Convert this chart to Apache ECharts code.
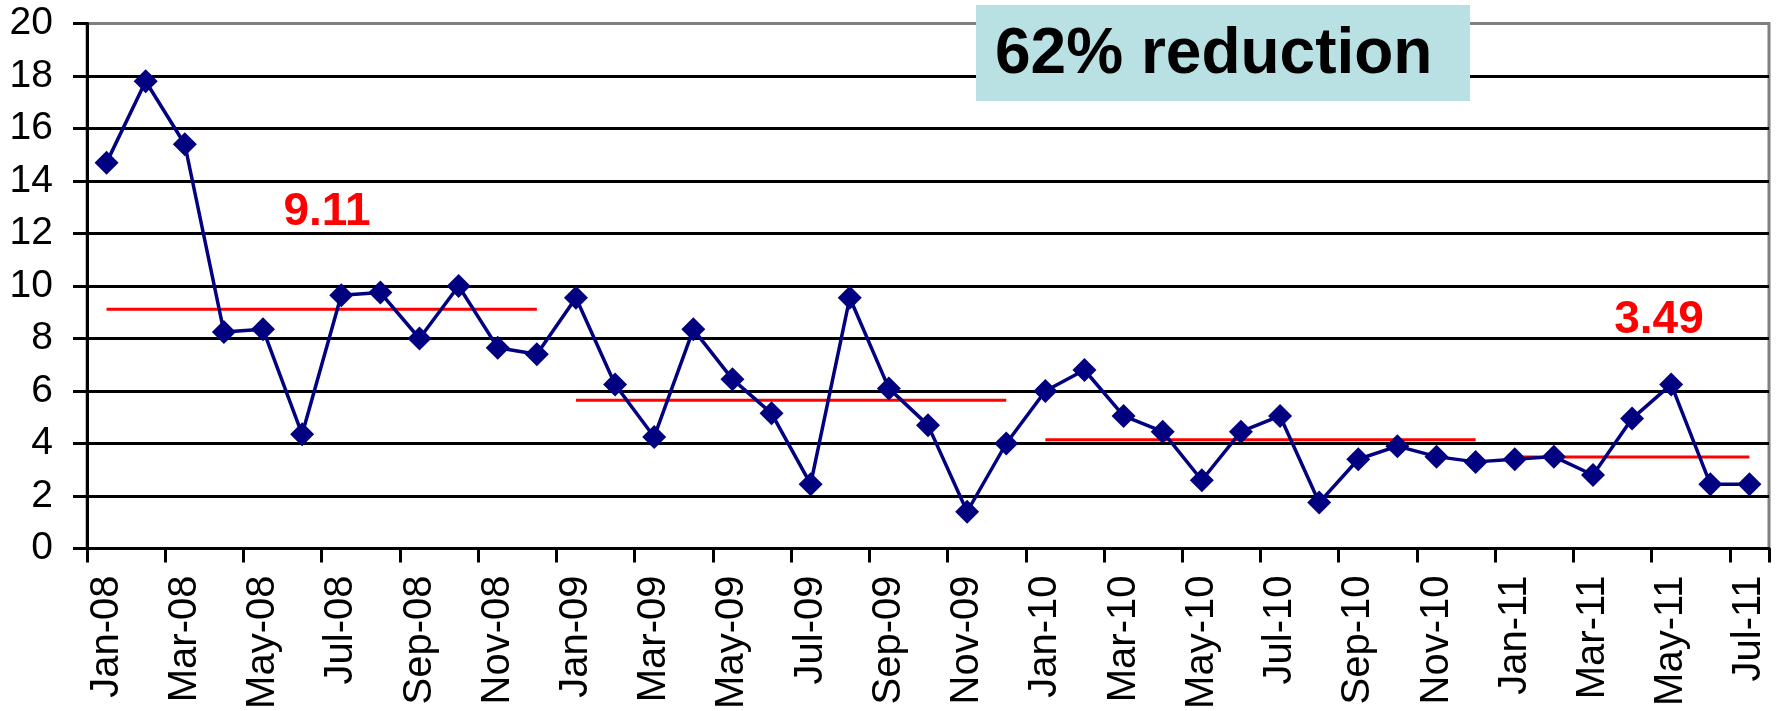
<!DOCTYPE html>
<html>
<head>
<meta charset="utf-8">
<title>Monthly rate 2008–2011</title>
<script src="https://cdn.jsdelivr.net/npm/echarts@6/dist/echarts.min.js"></script>
<style>
  html, body { margin: 0; padding: 0; background: #ffffff; }
  #chart { width: 1777px; height: 711px; }
</style>
</head>
<body>
<div id="chart"></div>
<script>
// Months on the category axis
const months = [
  'Jan-08','Feb-08','Mar-08','Apr-08','May-08','Jun-08','Jul-08','Aug-08','Sep-08','Oct-08','Nov-08','Dec-08',
  'Jan-09','Feb-09','Mar-09','Apr-09','May-09','Jun-09','Jul-09','Aug-09','Sep-09','Oct-09','Nov-09','Dec-09',
  'Jan-10','Feb-10','Mar-10','Apr-10','May-10','Jun-10','Jul-10','Aug-10','Sep-10','Oct-10','Nov-10','Dec-10',
  'Jan-11','Feb-11','Mar-11','Apr-11','May-11','Jun-11','Jul-11'
];

// Monthly values
const monthlyRate = [
  14.7, 17.8, 15.4, 8.25, 8.35, 4.35, 9.65, 9.75, 8.0, 10.0, 7.65, 7.4,
  9.55, 6.25, 4.25, 8.35, 6.45, 5.15, 2.45, 9.55, 6.1, 4.7, 1.4, 4.0,
  6.0, 6.8, 5.05, 4.45, 2.6, 4.45, 5.05, 1.75, 3.4, 3.9, 3.5, 3.3,
  3.4, 3.5, 2.8, 4.95, 6.25, 2.45, 2.45
];

// Period averages and the month index ranges they cover
const periodMean  = [9.11, 5.65, 4.14, 3.49];
const periodStart = [0, 12, 24, 36];
const periodEnd   = [11, 23, 35, 42];

// Y axis scale
const yMin = 0, yMax = 20, yStep = 2;

const FONT = '"Liberation Sans", Arial, Helvetica, sans-serif';

// One flat red segment per period, null outside its range
const meanSeries = periodMean.map((m, p) => ({
  type: 'line',
  data: months.map((_, i) => (i >= periodStart[p] && i <= periodEnd[p]) ? m : null),
  symbol: 'none',
  lineStyle: { color: '#ff0000', width: 3 },
  itemStyle: { color: '#ff0000' },
  connectNulls: false,
  silent: true,
  z: 2
}));

// Split line colours: black everywhere, grey for the top frame line
const nLines = Math.round((yMax - yMin) / yStep) + 1;
const splitColors = Array.from({ length: nLines }, (_, i) => i === nLines - 1 ? '#808080' : '#000000');

const chart = echarts.init(document.getElementById('chart'), null, { renderer: 'canvas' });

chart.setOption({
  animation: false,
  backgroundColor: '#ffffff',
  textStyle: { fontFamily: FONT },
  grid: {
    left: 87, right: 8, top: 23.5, bottom: 162.5,
    containLabel: false,
    outerBoundsMode: 'none',
    show: true, borderColor: '#808080', borderWidth: 3, backgroundColor: 'transparent'
  },
  xAxis: {
    type: 'category',
    data: months,
    boundaryGap: true,
    axisLine: { lineStyle: { color: '#000000', width: 3 } },
    axisTick: { show: true, interval: 1, length: 14, lineStyle: { color: '#000000', width: 3 } },
    axisLabel: {
      interval: 1, rotate: 90, margin: 27,
      color: '#000000', fontSize: 40, fontFamily: FONT
    },
    splitLine: { show: false }
  },
  yAxis: {
    type: 'value',
    min: yMin, max: yMax, interval: yStep,
    axisLine: { show: true, lineStyle: { color: '#000000', width: 3 } },
    axisTick: { show: true, length: 14, lineStyle: { color: '#000000', width: 3 } },
    axisLabel: { margin: 34, color: '#000000', fontSize: 39, fontFamily: FONT },
    splitLine: { show: true, lineStyle: { color: splitColors, width: 3 } }
  },
  series: [
    ...meanSeries,
    {
      type: 'line',
      data: monthlyRate,
      symbol: 'diamond',
      symbolSize: [24, 24],
      showAllSymbol: true,
      lineStyle: { color: '#000080', width: 3.5 },
      itemStyle: { color: '#000080' },
      z: 5
    }
  ],
  graphic: [
    {
      type: 'rect',
      left: 976, top: 5,
      shape: { width: 494, height: 96 },
      style: { fill: '#b9e0e3' },
      z: 10
    },
    {
      type: 'text',
      x: 995, y: 55,
      style: {
        text: '62% reduction',
        font: 'bold 64px ' + FONT,
        fill: '#000000',
        align: 'left', verticalAlign: 'middle'
      },
      z: 11
    },
    {
      type: 'text',
      x: 327, y: 212,
      style: {
        text: String(periodMean[0]),
        font: 'bold 46px ' + FONT,
        fill: '#ff0000',
        align: 'center', verticalAlign: 'middle'
      },
      z: 11
    },
    {
      type: 'text',
      x: 1659, y: 320,
      style: {
        text: String(periodMean[3]),
        font: 'bold 46px ' + FONT,
        fill: '#ff0000',
        align: 'center', verticalAlign: 'middle'
      },
      z: 11
    }
  ]
});
</script>
</body>
</html>
